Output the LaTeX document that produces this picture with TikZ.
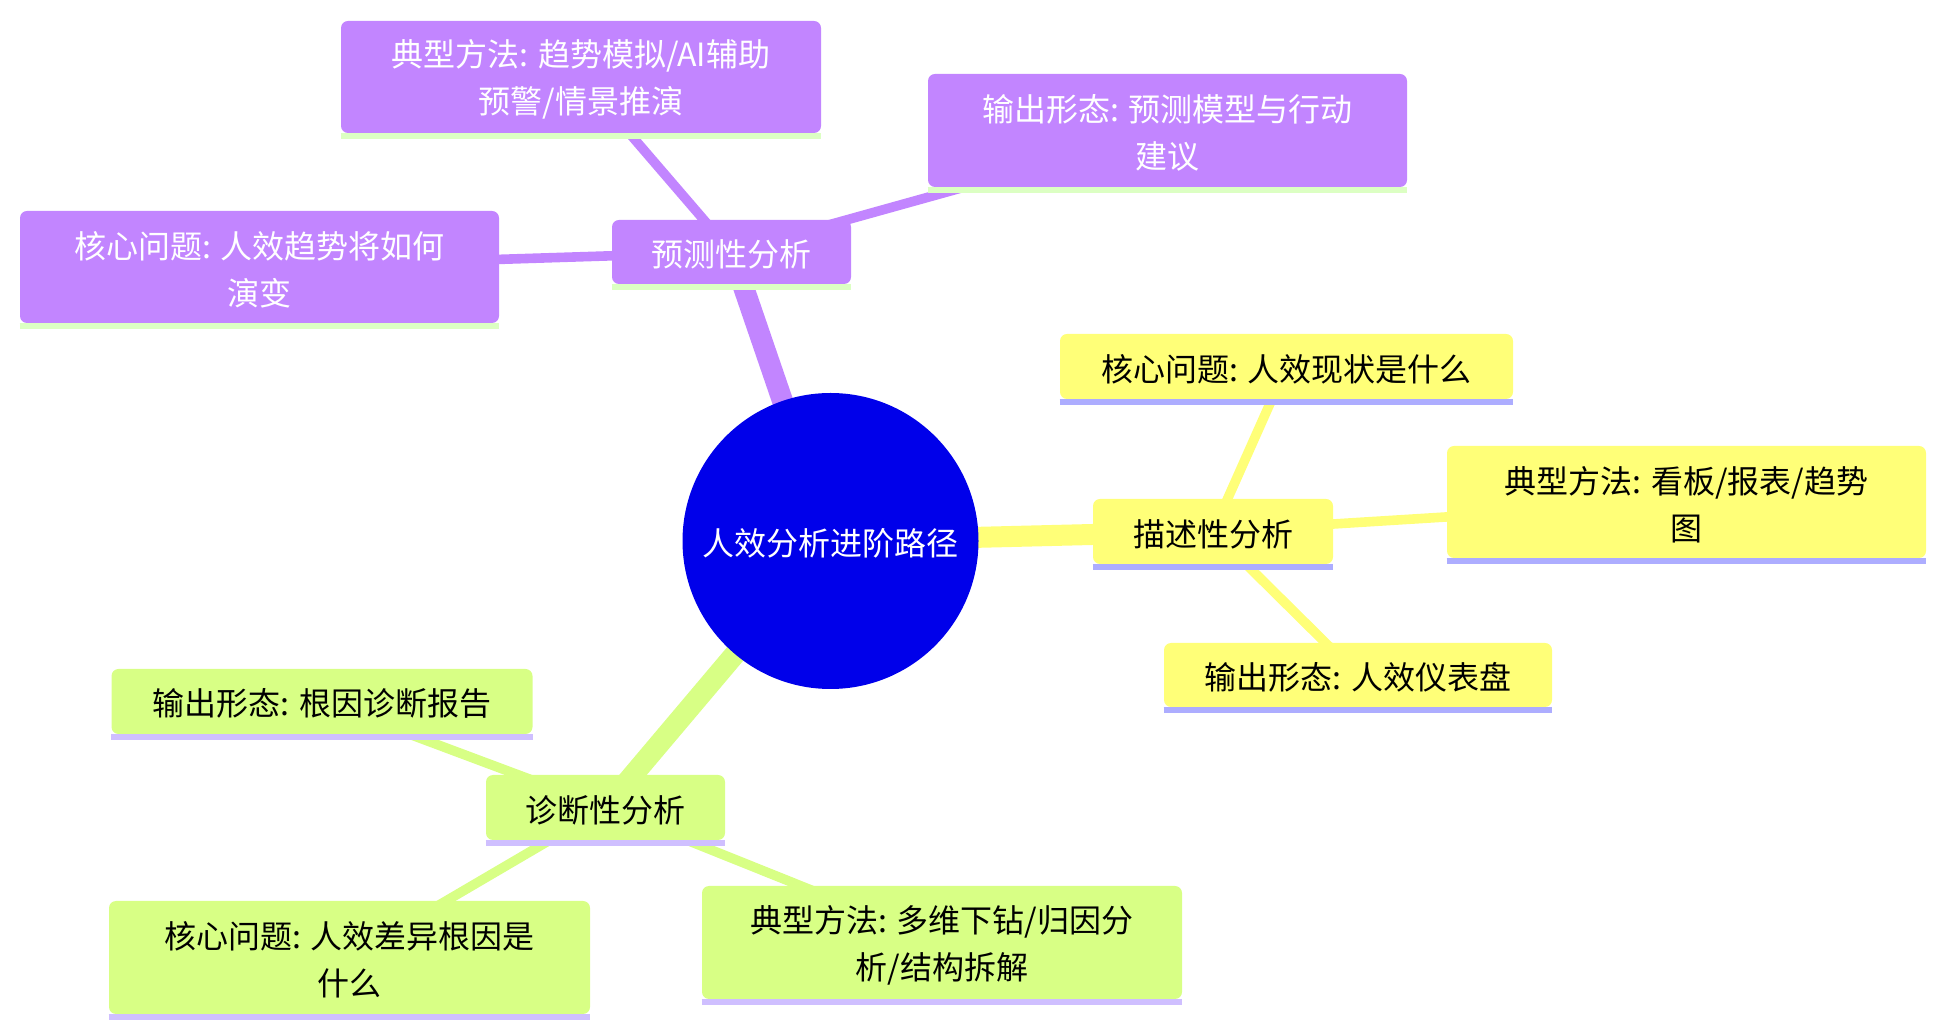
\documentclass[tikz,border=0pt]{standalone}
\usepackage{fontspec}
\setmainfont{Noto Sans CJK SC}
\usetikzlibrary{backgrounds}
\definecolor{rootc}{HTML}{0000EA}
\definecolor{purp}{HTML}{C285FF}
\definecolor{purpul}{HTML}{DCFFC3}
\definecolor{yel}{HTML}{FFFF78}
\definecolor{yelul}{HTML}{ADADFF}
\definecolor{grn}{HTML}{D8FF85}
\definecolor{grnul}{HTML}{CFBFFF}
\tikzset{
  mmtext/.style={font=\fontsize{16pt}{23.5pt}\selectfont, align=center, inner sep=0pt, yshift=-1.2pt},
  wtext/.style={mmtext, text=white},
  btext/.style={mmtext, text=black},
  box/.style={inner sep=0pt, rounded corners=3.5pt},
  pbox/.style={box, fill=purp},
  ybox/.style={box, fill=yel},
  gbox/.style={box, fill=grn},
  rootedge/.style={line width=10.5pt},
  leafedge/.style={line width=4.8pt},
}
\newcommand{\uline}[2]{\draw[line width=3pt,#2] ([yshift=-1.5pt]#1.south west) -- ([yshift=-1.5pt]#1.south east);}
\begin{document}
\begin{tikzpicture}[x=0.5pt,y=-0.5pt]
\useasboundingbox (0,0) rectangle (1945,1036);
% root
\node[circle, inner sep=0pt, fill=rootc, minimum size=148pt, label={[wtext]center:{人效分析进阶路径}}] (root) at (830.5,541) {};
% predictive
\node[pbox, minimum width=119.5pt, minimum height=32pt, label={[wtext]center:{预测性分析}}] (P) at (731.5,252) {};
\node[pbox, minimum width=240pt, minimum height=56pt, label={[wtext]center:{典型方法: 趋势模拟/AI辅助\\预警/情景推演}}] (P1) at (581,77) {};
\node[pbox, minimum width=239.5pt, minimum height=56.5pt, label={[wtext]center:{输出形态: 预测模型与行动\\建议}}] (P2) at (1167.5,130.5) {};
\node[pbox, minimum width=239.5pt, minimum height=56pt, label={[wtext]center:{核心问题: 人效趋势将如何\\演变}}] (P3) at (259.5,267) {};
% descriptive
\node[ybox, minimum width=120pt, minimum height=32.5pt, label={[btext]center:{描述性分析}}] (D) at (1213,531.5) {};
\node[ybox, minimum width=226.5pt, minimum height=32.5pt, label={[btext]center:{核心问题: 人效现状是什么}}] (D1) at (1286.5,366.5) {};
\node[ybox, minimum width=239.5pt, minimum height=56pt, label={[btext]center:{典型方法: 看板/报表/趋势\\图}}] (D2) at (1686.5,502) {};
\node[ybox, minimum width=194pt, minimum height=32pt, label={[btext]center:{输出形态: 人效仪表盘}}] (D3) at (1358,675) {};
% diagnostic
\node[gbox, minimum width=119.5pt, minimum height=32.5pt, label={[btext]center:{诊断性分析}}] (G) at (605.5,807.5) {};
\node[gbox, minimum width=210.5pt, minimum height=32.5pt, label={[btext]center:{输出形态: 根因诊断报告}}] (G1) at (322,701.5) {};
\node[gbox, minimum width=240.5pt, minimum height=56.5pt, label={[btext]center:{核心问题: 人效差异根因是\\什么}}] (G2) at (349.5,957.5) {};
\node[gbox, minimum width=240pt, minimum height=56.5pt, label={[btext]center:{典型方法: 多维下钻/归因分\\析/结构拆解}}] (G3) at (942,942.5) {};
% underlines
\uline{P}{purpul}\uline{P1}{purpul}\uline{P2}{purpul}\uline{P3}{purpul}
\uline{D}{yelul}\uline{D1}{yelul}\uline{D2}{yelul}\uline{D3}{yelul}
\uline{G}{grnul}\uline{G1}{grnul}\uline{G2}{grnul}\uline{G3}{grnul}
% edges
\begin{pgfonlayer}{background}
\draw[rootedge, purp] (root.center) -- (P.center);
\draw[rootedge, yel] (root.center) -- (D.center);
\draw[rootedge, grn] (root.center) -- (G.center);
\draw[leafedge, purp] (P.center) -- (P1.center);
\draw[leafedge, purp] (P.center) -- (P2.center);
\draw[leafedge, purp] (P.center) -- (P3.center);
\draw[leafedge, yel] (D.center) -- (D1.center);
\draw[leafedge, yel] (D.center) -- (D2.center);
\draw[leafedge, yel] (D.center) -- (D3.center);
\draw[leafedge, grn] (G.center) -- (G1.center);
\draw[leafedge, grn] (G.center) -- (G2.center);
\draw[leafedge, grn] (G.center) -- (G3.center);
\end{pgfonlayer}
\end{tikzpicture}
\end{document}
